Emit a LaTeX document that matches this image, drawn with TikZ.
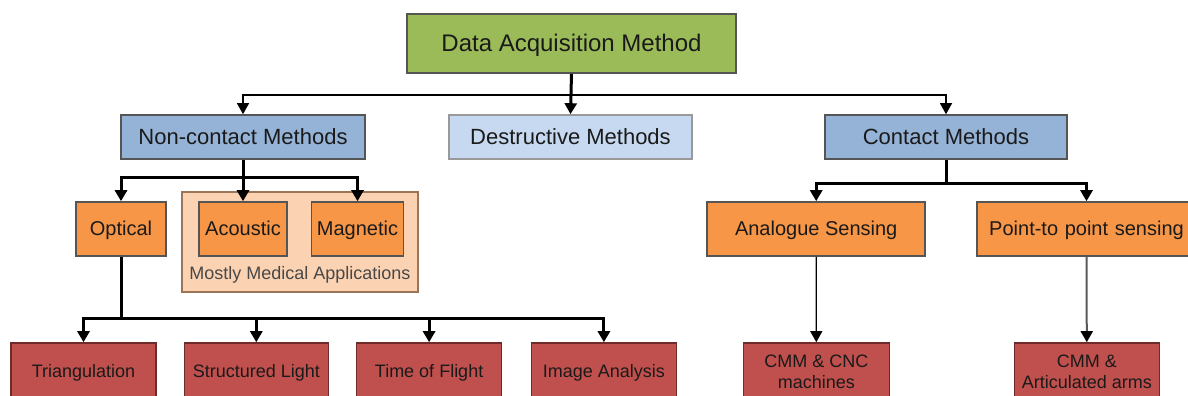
\documentclass[tikz,border=0pt]{standalone}
\usepackage{fontspec}
\setmainfont{Liberation Sans}
\usetikzlibrary{arrows.meta}
\definecolor{cgreen}{HTML}{9BBB59}
\definecolor{cblue}{HTML}{95B3D7}
\definecolor{clblue}{HTML}{C6D9F1}
\definecolor{corange}{HTML}{F79646}
\definecolor{cpeach}{HTML}{FBD3B3}
\definecolor{cred}{HTML}{C0504D}
\definecolor{credb}{HTML}{6E2B29}
\definecolor{cbord}{HTML}{555555}
\definecolor{cpeachb}{HTML}{9C7456}
\definecolor{ctext}{HTML}{1A1A1A}
\begin{document}
\begin{tikzpicture}[x=1pt,y=-1pt,
  box/.style={draw=cbord, line width=1.6pt, inner sep=0pt, align=center, text=ctext},
  greenbox/.style={box, text height=17pt, text depth=0.5pt, fill=cgreen, font=\fontsize{24}{28}\selectfont},
  bluebox/.style={box, text height=15.6pt, text depth=0.5pt, fill=cblue, font=\fontsize{22}{26}\selectfont},
  lbluebox/.style={box, text height=15.6pt, text depth=0.5pt, fill=clblue, draw=gray!80, font=\fontsize{22}{26}\selectfont},
  orangebox/.style={box, text height=14.2pt, text depth=0.4pt, fill=corange, font=\fontsize{20}{24}\selectfont},
  redbox/.style={box, fill=cred, draw=credb, font=\fontsize{18}{21}\selectfont},
  redone/.style={redbox, text height=12.8pt, text depth=0.4pt},
  contbox/.style={draw=cpeachb, line width=1.6pt, fill=cpeach},
  arr/.style={-{Triangle[length=11pt,width=12pt]}},
  thickc/.style={line width=3pt, draw=black},
  thinc/.style={line width=1.2pt, draw=black},
  midc/.style={line width=2pt, draw=gray!70!black}
]
\useasboundingbox (0,0) rectangle (1188,396);
\clip (0,0) rectangle (1188,396);

% level 1
\node[greenbox, minimum width=329pt, minimum height=59pt] (data) at (571.5,43.5) {Data Acquisition Method};

% level 2
\node[bluebox, minimum width=244pt, minimum height=44pt] (non) at (243,137) {Non-contact Methods};
\node[lbluebox, minimum width=243pt, minimum height=44pt] (des) at (570.5,137) {Destructive Methods};
\node[bluebox, minimum width=242pt, minimum height=44pt] (con) at (946,137) {Contact Methods};

% level 3
\node[contbox, minimum width=236pt, minimum height=100pt] (cont) at (299.7,242.2) {};
\node[orangebox, minimum width=90pt, minimum height=54pt] (opt) at (121,229) {Optical};
\node[orangebox, minimum width=88pt, minimum height=54pt] (aco) at (243,229) {Acoustic};
\node[orangebox, minimum width=92pt, minimum height=54pt] (mag) at (357.5,229) {Magnetic};
\node[text=ctext!80, font=\fontsize{18}{21}\selectfont] (med) at (300,275) {Mostly Medical Applications};
\node[orangebox, minimum width=218pt, minimum height=54pt] (ana) at (816.2,229) {Analogue Sensing};
\node[orangebox, minimum width=219pt, minimum height=54pt, text width=210pt] (pts) at (1086.5,229) {Point-to point sensing};

% level 4
\node[redone, minimum width=145pt, minimum height=57pt] (tri) at (83.5,371.5) {Triangulation};
\node[redone, minimum width=144pt, minimum height=57pt] (str) at (256.3,371.5) {Structured Light};
\node[redone, minimum width=145pt, minimum height=57pt] (tof) at (429.1,371.5) {Time of Flight};
\node[redone, minimum width=145pt, minimum height=57pt] (ima) at (603.9,371.5) {Image Analysis};
\node[redbox, minimum width=146pt, minimum height=57pt] (cnc) at (816.3,371.5) {CMM \& CNC\\machines};
\node[redbox, minimum width=145pt, minimum height=57pt] (art) at (1086.8,371.5) {CMM \&\\Articulated arms};

% junction coordinates
\coordinate (j0) at (571.5,95);
\coordinate (j1) at (243,177);
\coordinate (j2) at (121,318);
\coordinate (j3) at (946,183);

% connectors
\draw[thickc, arr] (data.south) -- (des.north);
\draw[thinc, arr] (j0) -| (non.north);
\draw[thinc, arr] (j0) -| (con.north);

\draw[thickc] (non.south) -- (j1);
\draw[thickc, arr] (j1) -| (opt.north);
\draw[thickc, arr] (j1) -- (aco.north);
\draw[thickc, arr] (j1) -| (mag.north);

\draw[thickc] (opt.south) -- (j2);
\draw[thickc, arr] (j2) -| (tri.north);
\draw[thickc, arr] (j2) -| (str.north);
\draw[thickc, arr] (j2) -| (tof.north);
\draw[thickc, arr] (j2) -| (ima.north);

\draw[thickc] (con.south) -- (j3);
\draw[thickc, arr] (j3) -| (ana.north);
\draw[thickc, arr] (j3) -| (pts.north);

\draw[thinc, arr] (ana.south) -- (cnc.north);
\draw[midc, -{Triangle[length=11pt,width=12pt,color=black]}] (pts.south) -- (art.north);
\end{tikzpicture}
\end{document}
